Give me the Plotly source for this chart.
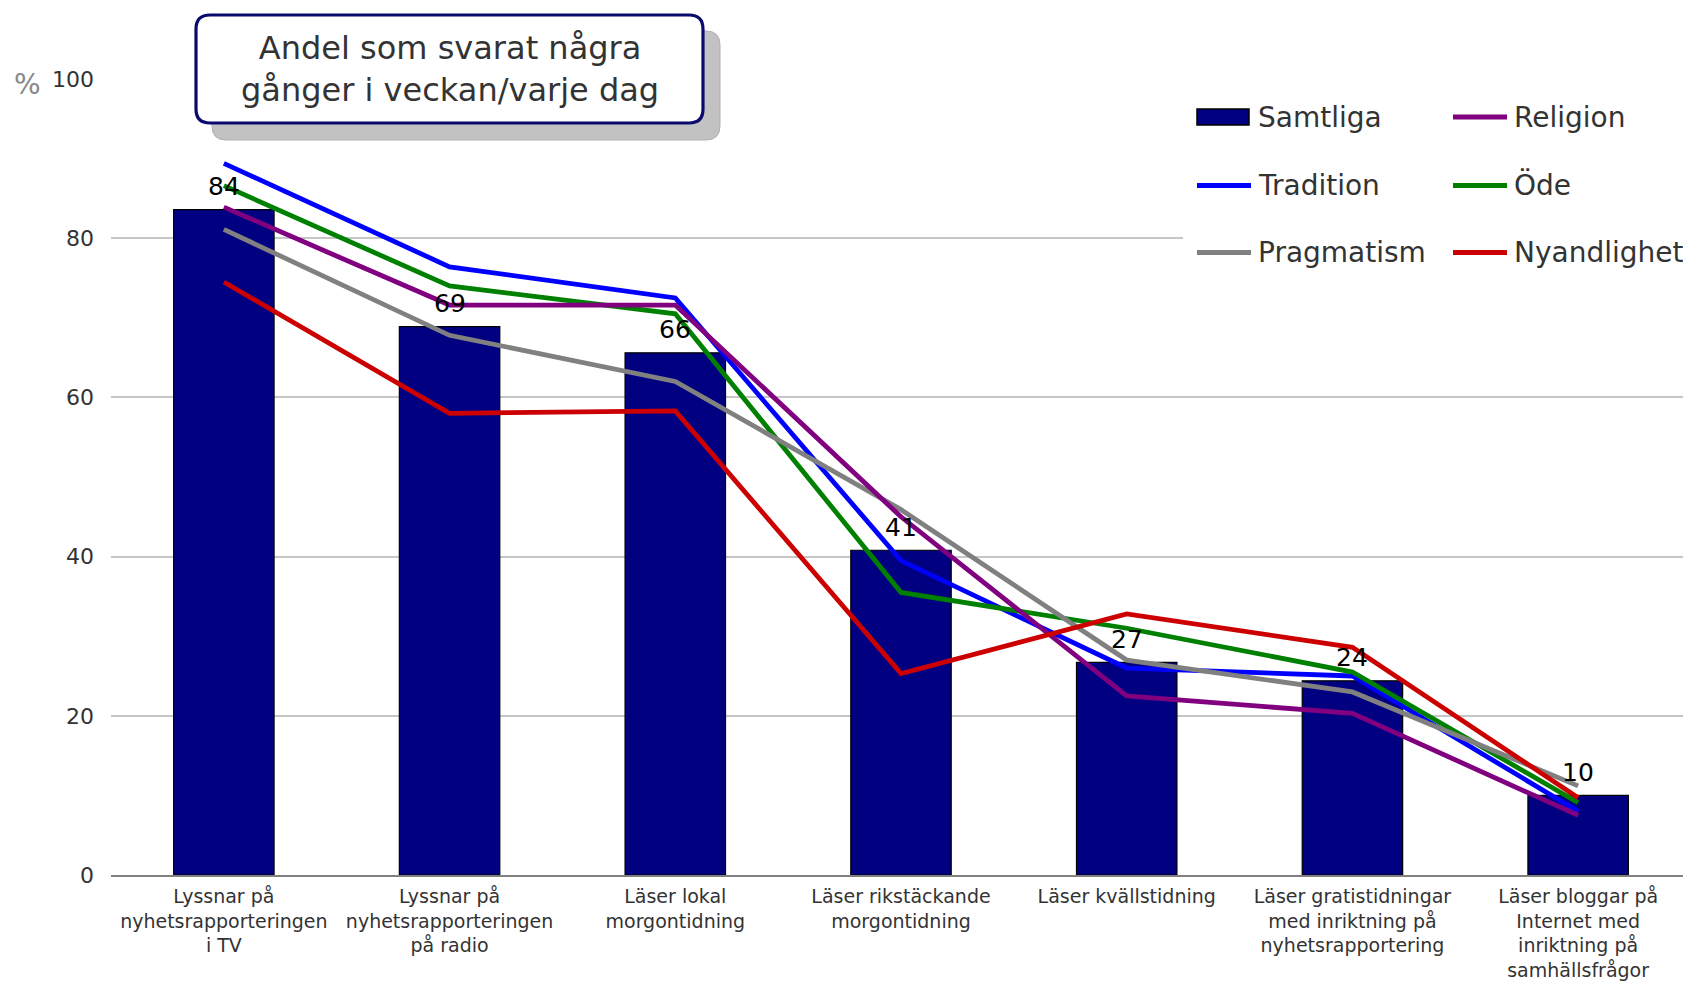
import plotly.graph_objects as go

categories = [
    "Lyssnar på<br>nyhetsrapporteringen<br>i TV",
    "Lyssnar på<br>nyhetsrapporteringen<br>på radio",
    "Läser lokal<br>morgontidning",
    "Läser rikstäckande<br>morgontidning",
    "Läser kvällstidning",
    "Läser gratistidningar<br>med inriktning på<br>nyhetsrapportering",
    "Läser bloggar på<br>Internet med<br>inriktning på<br>samhällsfrågor",
]

samtliga = [83.6, 68.9, 65.6, 40.8, 26.7, 24.4, 10.0]
religion = [83.9, 71.6, 71.6, 45.0, 22.5, 20.3, 7.5]
tradition = [89.4, 76.4, 72.5, 39.5, 26.0, 25.0, 8.0]
ode = [86.6, 74.0, 70.5, 35.5, 31.0, 25.5, 9.1]
pragmatism = [81.1, 67.8, 62.0, 45.9, 27.0, 23.0, 11.2]
nyandlighet = [74.5, 58.0, 58.3, 25.3, 32.8, 28.6, 9.7]

y_ticks = [0, 20, 40, 60, 80, 100]
title_text = "Andel som svarat några<br>gånger i veckan/varje dag"

line_series = [
    ("Tradition", tradition, "#0000FF"),
    ("Öde", ode, "#008000"),
    ("Pragmatism", pragmatism, "#808080"),
    ("Religion", religion, "#800080"),
    ("Nyandlighet", nyandlighet, "#CC0000"),
]

OFF = 8  # page body margin
W, H = 1691 - OFF, 981 - OFF
L, R = 111 - OFF, 0
T = 79 - OFF
B = H - (875 - OFF)
PW, PH = W - L - R, H - T - B
FONT = "DejaVu Sans"


def px(x):
    # page pixel x -> paper
    return (x - OFF - L) / PW


def py(y):
    # page pixel y -> paper
    return (H - B - (y - OFF)) / PH


def rounded_path(x0, y0, x1, y1, r):
    pts = [
        f"M{px(x0 + r)},{py(y0)}",
        f"L{px(x1 - r)},{py(y0)}",
        f"Q{px(x1)},{py(y0)} {px(x1)},{py(y0 + r)}",
        f"L{px(x1)},{py(y1 - r)}",
        f"Q{px(x1)},{py(y1)} {px(x1 - r)},{py(y1)}",
        f"L{px(x0 + r)},{py(y1)}",
        f"Q{px(x0)},{py(y1)} {px(x0)},{py(y1 - r)}",
        f"L{px(x0)},{py(y0 + r)}",
        f"Q{px(x0)},{py(y0)} {px(x0 + r)},{py(y0)}",
        "Z",
    ]
    return " ".join(pts)


fig = go.Figure()
fig.add_trace(go.Bar(
    x=categories, y=samtliga, name="Samtliga",
    marker=dict(color="#000080", line=dict(color="#000000", width=1.2)),
    width=0.445, showlegend=False,
))
for name, vals, col in line_series:
    fig.add_trace(go.Scatter(
        x=categories, y=vals, name=name, mode="lines",
        line=dict(color=col, width=4.8), showlegend=False,
    ))

annotations = []
for c, v in zip(categories, samtliga):
    annotations.append(dict(
        x=c, y=v, text=f"{v:.0f}", showarrow=False, yanchor="middle",
        yshift=23, font=dict(family=FONT, size=25, color="#000000"),
    ))

shapes = []
# title box shadow + box
shapes.append(dict(type="path", xref="paper", yref="paper", layer="above",
                   path=rounded_path(212, 31, 720, 140, 14),
                   fillcolor="#c2c2c2", line=dict(color="#b0b0b0", width=1)))
shapes.append(dict(type="path", xref="paper", yref="paper", layer="above",
                   path=rounded_path(196, 15, 703, 123, 14),
                   fillcolor="#ffffff", line=dict(color="#0a0a6e", width=3.2)))
annotations.append(dict(
    xref="paper", yref="paper", x=px(449.5), y=py(69), text=title_text,
    showarrow=False, xanchor="center", yanchor="middle",
    font=dict(family=FONT, size=32, color="#333333"),
))

# legend background
shapes.append(dict(type="rect", xref="paper", yref="paper", layer="above",
                   x0=px(1183), x1=px(1700), y0=py(85), y1=py(292),
                   fillcolor="#ffffff", line=dict(width=0)))

legend_items = [
    ("Samtliga", "#000080", "bar", 1197, 117.0),
    ("Religion", "#800080", "line", 1453, 117.0),
    ("Tradition", "#0000FF", "line", 1197, 185.5),
    ("Öde", "#008000", "line", 1453, 185.5),
    ("Pragmatism", "#808080", "line", 1197, 252.5),
    ("Nyandlighet", "#CC0000", "line", 1453, 252.5),
]
for name, col, kind, sx, sy in legend_items:
    if kind == "bar":
        shapes.append(dict(type="rect", xref="paper", yref="paper", layer="above",
                           x0=px(sx), x1=px(sx + 52), y0=py(sy - 8), y1=py(sy + 8),
                           fillcolor=col, line=dict(color="#000000", width=1.5)))
    else:
        shapes.append(dict(type="line", xref="paper", yref="paper", layer="above",
                           x0=px(sx), x1=px(sx + 54), y0=py(sy), y1=py(sy),
                           line=dict(color=col, width=4.8)))
    annotations.append(dict(
        xref="paper", yref="paper", x=px(sx + 59), y=py(sy), text=name,
        showarrow=False, xanchor="left", yanchor="middle",
        font=dict(family=FONT, size=28, color="#333333"),
    ))

# percent sign
annotations.append(dict(
    xref="paper", yref="paper", x=px(27), y=py(84), text="%",
    showarrow=False, xanchor="center", yanchor="middle",
    font=dict(family=FONT, size=28, color="#888888"),
))

fig.update_layout(
    width=W, height=H,
    margin=dict(l=L, r=R, t=T, b=B, pad=0, autoexpand=False),
    paper_bgcolor="#ffffff", plot_bgcolor="#ffffff",
    font=dict(family=FONT, color="#333333"),
    xaxis=dict(
        type="category", range=[-0.5, 6.5], showgrid=False, automargin=False,
        showline=True, linecolor="#808080", linewidth=2,
        ticks="", tickfont=dict(family=FONT, size=19, color="#333333"),
        ticklabelstandoff=3, zeroline=False,
    ),
    yaxis=dict(
        range=[0, 100], tickvals=y_ticks, automargin=False,
        showgrid=True, gridcolor="#c6c6c6", gridwidth=1.5,
        zeroline=False, showline=False, ticks="",
        ticklabelstandoff=16,
        tickfont=dict(family=FONT, size=22, color="#333333"),
    ),
    shapes=shapes, annotations=annotations, showlegend=False,
)

fig.write_html("out.html")
